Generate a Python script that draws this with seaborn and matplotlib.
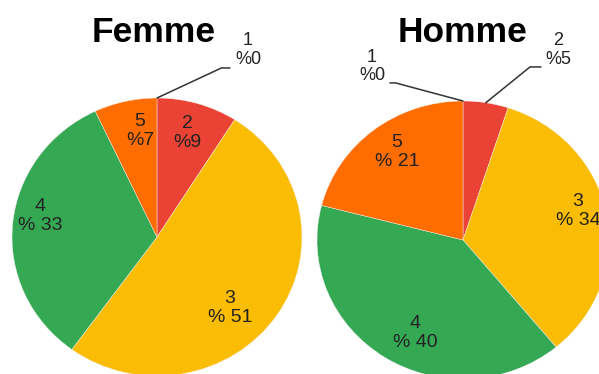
import numpy as np
import pandas as pd
import matplotlib.pyplot as plt
import seaborn as sns

# data
categories = ["1", "2", "3", "4", "5"]
femme_pct = [0, 9, 51, 33, 7]
homme_pct = [0, 5, 34, 40, 21]
titles = ["Femme", "Homme"]

sns.set_style("white")
plt.rcParams['font.family'] = ['Liberation Sans', 'DejaVu Sans']

colors = sns.color_palette(["#4285F4", "#EA4335", "#FBBC04", "#34A853", "#FF6D01"])

df = pd.DataFrame({"cat": categories, "Femme": femme_pct, "Homme": homme_pct})

W, H = 599, 374
fig = plt.figure(figsize=(W / 100, H / 100), dpi=100)


def px_axes(cx, cy, rx, ry):
    # axes box in pixel terms (origin top-left) -> figure fraction
    return [(cx - rx) / W, (H - cy - ry) / H, 2 * rx / W, 2 * ry / H]


def label(cat, pct):
    return f"{cat}\n%{pct}" if pct < 10 else f"{cat}\n% {pct}"


# layout: pie box, inside label spots, callouts (text spot, leader end, leader angle)
layout = {
    "Femme": dict(box=(157, 237, 145, 139), title=(154, 32),
                  inside={"2": (0.207, 0.748), "3": (0.503, -0.511),
                          "4": (-0.807, 0.151), "5": (-0.117, 0.763)},
                  callout={"1": ((0.628, 1.345), (0.503, 1.216), 25)}),
    "Homme": dict(box=(463, 240, 146, 139), title=(463, 33),
                  inside={"3": (0.788, 0.209), "4": (-0.329, -0.669),
                          "5": (-0.452, 0.633)},
                  callout={"1": ((-0.623, 1.25), (-0.5, 1.13), -15),
                           "2": ((0.65, 1.367), (0.534, 1.245), 39)}),
}

for name in titles:
    lay = layout[name]
    ax = fig.add_axes(px_axes(*lay["box"]))
    vals = df[name].values.astype(float)
    wedges, _ = ax.pie(vals, colors=colors, startangle=90, counterclock=False,
                       wedgeprops=dict(linewidth=0.3, edgecolor="#f4f4f4"))
    for w, v in zip(wedges, vals):
        if v == 0:
            w.set_edgecolor("#8e9bd6")
            w.set_linewidth(1.3)
    ax.set_aspect("auto")
    ax.set_xlim(-1, 1)
    ax.set_ylim(-1, 1)
    ax.axis("off")

    for cat, pct in zip(df["cat"], df[name]):
        if cat in lay["inside"]:
            x, y = lay["inside"][cat]
            ax.text(x, y, label(cat, pct), ha="center", va="center",
                    fontsize=14, color="#222222", linespacing=1.1)
        if cat in lay["callout"]:
            (tx, ty), (ex, ey), ang = lay["callout"][cat]
            i = categories.index(cat)
            w = wedges[i]
            mid = np.deg2rad((w.theta1 + w.theta2) / 2)
            ax.annotate("", xy=(np.cos(mid), np.sin(mid)), xytext=(ex, ey),
                        arrowprops=dict(arrowstyle="-", color="#333333", lw=1.1,
                                        shrinkA=0, shrinkB=0,
                                        connectionstyle=f"angle,angleA=0,angleB={ang},rad=0"),
                        annotation_clip=False)
            ax.text(tx, ty, label(cat, pct), ha="center", va="center",
                    fontsize=13, color="#222222", linespacing=1.1, clip_on=False)

    tx, ty = lay["title"]
    fig.text(tx / W, 1 - ty / H, name, ha="center", va="center",
             fontsize=25.5, fontweight="bold", color="black")

plt.savefig("out.png", dpi=100)
